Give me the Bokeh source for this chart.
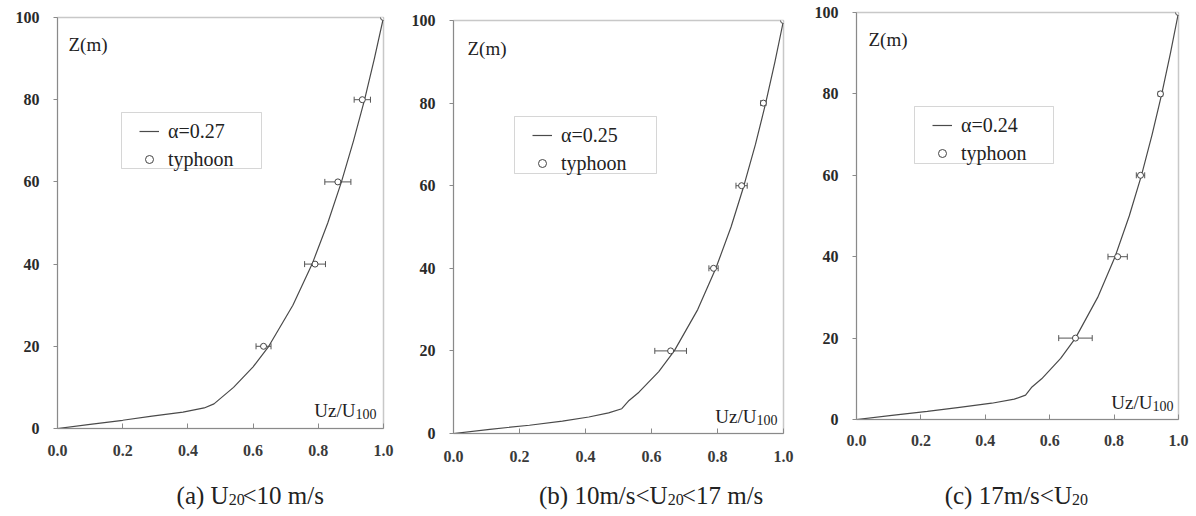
from bokeh.plotting import figure
from bokeh.layouts import row, column
from bokeh.models import (Range1d, Label, Legend, LegendItem, Whisker, TeeHead,
                          ColumnDataSource, FixedTicker, PrintfTickFormatter,
                          BoxAnnotation)
from bokeh.embed import file_html
from bokeh.resources import INLINE

# ---------------- data ----------------
heights = [0, 1, 2, 3, 4, 5, 6, 8, 10, 15, 20, 30, 40, 50, 60, 70, 80, 90, 100]
fit_a = [0, 0.10, 0.20, 0.29, 0.385, 0.45, 0.48, 0.51, 0.54, 0.60, 0.648, 0.722, 0.781, 0.829, 0.871, 0.908, 0.942, 0.972, 1.0]
fit_b = [0, 0.11, 0.23, 0.33, 0.41, 0.47, 0.51, 0.532, 0.562, 0.622, 0.669, 0.740, 0.795, 0.841, 0.880, 0.915, 0.946, 0.974, 1.0]
fit_c = [0, 0.11, 0.22, 0.32, 0.42, 0.49, 0.525, 0.545, 0.575, 0.634, 0.680, 0.749, 0.803, 0.847, 0.885, 0.918, 0.948, 0.975, 1.0]

obs_z = [20, 40, 60, 80, 100]
obs_a = [0.632, 0.790, 0.860, 0.935, 1.0]
err_a = [0.023, 0.032, 0.040, 0.025, 0.0]
obs_b = [0.658, 0.788, 0.873, 0.939, 1.0]
err_b = [0.048, 0.014, 0.017, 0.008, 0.0]
obs_c = [0.680, 0.811, 0.882, 0.944, 1.0]
err_c = [0.052, 0.030, 0.013, 0.007, 0.0]

fit_labels = ["\u03b1=0.27", "\u03b1=0.25", "\u03b1=0.24"]
obs_label = "typhoon"
x_ticks = [0.0, 0.2, 0.4, 0.6, 0.8, 1.0]
y_ticks = [0, 20, 40, 60, 80, 100]
captions = [("(a) U", "20", "<10 m/s"),
            ("(b) 10m/s<U", "20", "<17 m/s"),
            ("(c) 17m/s<U", "20", "")]
y_title = "Z(m)"
x_title = ("Uz/U", "100")

# ---------------- layout (page pixel geometry) ----------------
fig_w = [400, 396, 399]
fig_off = [0, 400, 796]
fl = [57, 453, 856]     # frame left (page px)
fr = [383, 783, 1178]   # frame right
ft = [17, 20, 12]       # frame top
fb = [428, 433, 419]    # frame bottom
H_MAIN = 470
H_CAP = 45

leg_box = [(121, 112, 261, 168), (514, 116, 656, 173), (914, 106, 1053, 163)]
ztitle_pos = [(68, 44), (467, 48), (868, 39)]
xtitle_anchor = [(355, 410), (756, 416), (1152, 402)]
cap_anchor = [(210, 495), (657, 495), (1063, 495)]
xlab_standoff = [16, 17, 15]

SERIF = "Liberation Serif"
INK = "#222222"
LINE = "#4a4a4a"


def dx(i, xw):
    return (xw - fl[i]) / (fr[i] - fl[i])


def dy(i, yw):
    return (fb[i] - yw) / (fb[i] - ft[i]) * 100.0


fits = [fit_a, fit_b, fit_c]
obss = [obs_a, obs_b, obs_c]
errs = [err_a, err_b, err_c]

cols = []
for i in range(3):
    left = fl[i] - fig_off[i]
    right = fig_off[i] + fig_w[i] - fr[i]
    top = ft[i]
    bottom = H_MAIN - fb[i]
    p = figure(width=fig_w[i], height=H_MAIN, output_backend="svg", toolbar_location=None,
               x_range=Range1d(0, 1.0), y_range=Range1d(0, 100),
               min_border_left=left, min_border_right=right,
               min_border_top=top, min_border_bottom=bottom)
    p.grid.visible = False
    p.outline_line_color = "#c8c8c8"
    p.outline_line_width = 1.5
    p.background_fill_color = "white"
    p.border_fill_color = "white"

    ax = p.xaxis[0]
    ax.ticker = FixedTicker(ticks=x_ticks)
    ax.formatter = PrintfTickFormatter(format="%.1f")
    ax.major_tick_in = 5
    ax.major_tick_out = 0
    ax.minor_tick_line_color = None
    ax.axis_line_color = "#8a8a8a"
    ax.major_tick_line_color = "#8a8a8a"
    ax.major_label_text_font = SERIF
    ax.major_label_text_font_style = "bold"
    ax.major_label_text_font_size = "16px"
    ax.major_label_text_color = "#3a3a3a"
    ax.major_label_standoff = xlab_standoff[i]

    ay = p.yaxis[0]
    ay.ticker = FixedTicker(ticks=y_ticks)
    ay.major_tick_in = 0
    ay.major_tick_out = 4
    ay.minor_tick_line_color = None
    ay.axis_line_color = "#8a8a8a"
    ay.major_tick_line_color = "#8a8a8a"
    ay.major_label_text_font = SERIF
    ay.major_label_text_font_style = "bold"
    ay.major_label_text_font_size = "16px"
    ay.major_label_text_color = "#2a2a2a"
    ay.major_label_standoff = 14

    # fitted power-law profile
    lr = p.line(fits[i], heights, line_color=LINE, line_width=1.2)

    # error bars
    zz = [z for z, e in zip(obs_z, errs[i]) if e > 0]
    lo = [u - e for u, e in zip(obss[i], errs[i]) if e > 0]
    hi = [u + e for u, e in zip(obss[i], errs[i]) if e > 0]
    wsrc = ColumnDataSource(dict(z=zz, lo=lo, hi=hi))
    w = Whisker(source=wsrc, base="z", lower="lo", upper="hi", dimension="width",
                line_color="#555555", line_width=1,
                upper_head=TeeHead(size=6, line_color="#555555", line_width=1),
                lower_head=TeeHead(size=6, line_color="#555555", line_width=1))
    w.level = "underlay"
    p.add_layout(w)

    # observed points
    sr = p.scatter(obss[i], obs_z, marker="circle", size=6, fill_color="white",
                   line_color="#444444", line_width=1)

    # legend frame and legend
    bl, bt, br, bb = leg_box[i]
    p.add_layout(BoxAnnotation(left=dx(i, bl), right=dx(i, br),
                               top=dy(i, bt), bottom=dy(i, bb),
                               fill_color="white", fill_alpha=1.0,
                               line_color="#777777", line_width=1))
    pad, item_h, gap = 4, 24, 4
    leg_top = bt + 15 - item_h // 2 - pad
    leg_bottom = leg_top + 2 * pad + 2 * item_h + gap
    legend = Legend(items=[LegendItem(label=fit_labels[i], renderers=[lr]),
                           LegendItem(label=obs_label, renderers=[sr])],
                    location=(bl + 22 - pad - fl[i], fb[i] - leg_bottom),
                    margin=0, padding=pad, spacing=gap,
                    glyph_height=item_h, glyph_width=20, label_height=item_h,
                    label_standoff=9,
                    border_line_color=None, background_fill_alpha=0.0,
                    label_text_font=SERIF, label_text_font_size="20px",
                    label_text_color=INK)
    p.add_layout(legend)

    # axis titles inside the frame
    zx, zy = ztitle_pos[i]
    p.add_layout(Label(x=dx(i, zx), y=dy(i, zy), text=y_title, text_font=SERIF,
                       text_font_size="19px", text_color=INK,
                       text_align="left", text_baseline="alphabetic"))
    ux, uy = xtitle_anchor[i]
    p.add_layout(Label(x=dx(i, ux), y=dy(i, uy), text=x_title[0], text_font=SERIF,
                       text_font_size="19px", text_color=INK,
                       text_align="right", text_baseline="alphabetic"))
    p.add_layout(Label(x=dx(i, ux), y=dy(i, uy + 3), text=x_title[1], text_font=SERIF,
                       text_font_size="14px", text_color=INK,
                       text_align="left", text_baseline="alphabetic"))

    # caption strip below the panel (pixel coordinates of the strip)
    c = figure(width=fig_w[i], height=H_CAP, output_backend="svg", toolbar_location=None,
               x_range=Range1d(0, fig_w[i]), y_range=Range1d(0, H_CAP),
               min_border=0)
    c.axis.visible = False
    c.grid.visible = False
    c.outline_line_color = None
    c.border_fill_color = "white"
    c.background_fill_color = "white"
    cx, cy = cap_anchor[i]
    sx = cx - fig_off[i]
    sy = H_CAP - (cy - H_MAIN)
    pre, sub, post = captions[i]
    c.add_layout(Label(x=sx, y=sy, text=pre, text_font=SERIF,
                       text_font_size="25px", text_color=INK,
                       text_align="right", text_baseline="alphabetic"))
    c.add_layout(Label(x=sx, y=sy - 4, text=sub, text_font=SERIF,
                       text_font_size="16px", text_color=INK,
                       text_align="left", text_baseline="alphabetic"))
    if post:
        c.add_layout(Label(x=sx + 17, y=sy, text=post, text_font=SERIF,
                           text_font_size="25px", text_color=INK,
                           text_align="left", text_baseline="alphabetic"))
    cols.append(column(p, c, spacing=0))

layout = row(*cols, spacing=0)
open("out.html", "w").write(file_html(layout, INLINE))
